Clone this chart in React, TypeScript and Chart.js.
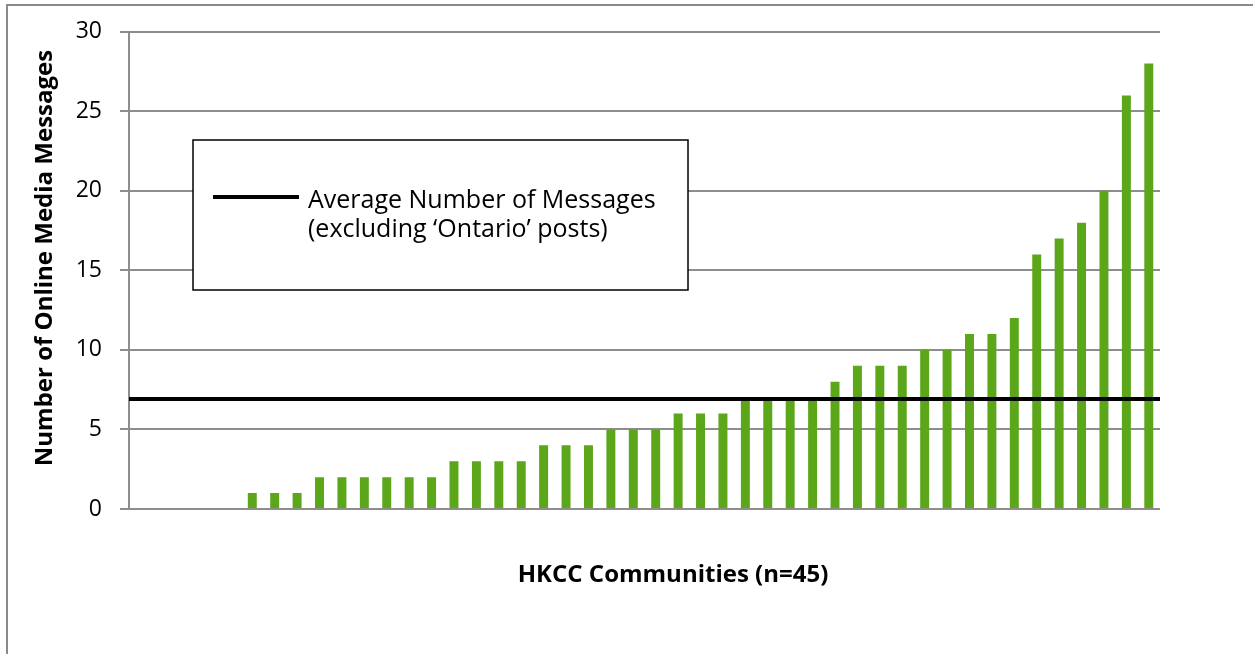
import { useEffect, useRef } from "react";
import { Chart, registerables } from "chart.js";

Chart.register(...registerables);

// ---- data ----
const communities: string[] = Array.from({ length: 46 }, (_, i) => `Community ${i + 1}`);
const messageCounts: number[] = [
  0, 0, 0, 0, 0, 1, 1, 1, 2, 2, 2, 2, 2, 2, 3, 3, 3, 3, 4, 4, 4, 5, 5, 5, 6, 6, 6,
  7, 7, 7, 7, 8, 9, 9, 9, 10, 10, 11, 11, 12, 16, 17, 18, 20, 26, 28,
];
const averageMessages = 6.92;
const yTickValues: number[] = [0, 5, 10, 15, 20, 25, 30];
const legendLines: string[] = ["Average Number of Messages", "(excluding \u2018Ontario\u2019 posts)"];
const xTitle = "HKCC Communities (n=45)";
const yTitle = "Number of Online Media Messages";

const FONT = "'Open Sans', Lato, sans-serif";
const GRID = "#8d8d8d";

const decorPlugin = {
  id: "decor",
  beforeDraw(chart: any) {
    const ctx = chart.ctx;
    ctx.save();
    ctx.fillStyle = "#ffffff";
    ctx.fillRect(0, 0, chart.width, chart.height);
    ctx.strokeStyle = "#8a8a8a";
    ctx.lineWidth = 2;
    ctx.beginPath();
    ctx.moveTo(6, 5);
    ctx.lineTo(chart.width, 5);
    ctx.moveTo(7, 4);
    ctx.lineTo(7, chart.height);
    ctx.stroke();
    ctx.restore();
  },
  afterDraw(chart: any) {
    const ctx = chart.ctx;
    ctx.save();
    // axis titles
    ctx.fillStyle = "#000";
    ctx.font = `bold 24px ${FONT}`;
    ctx.textAlign = "center";
    ctx.textBaseline = "middle";
    ctx.fillText(xTitle, 673, 575);
    ctx.translate(45, 258);
    ctx.rotate(-Math.PI / 2);
    ctx.fillText(yTitle, 0, 0);
    ctx.restore();

    // legend box
    ctx.save();
    const bx = 193, by = 140, bw = 495, bh = 150;
    ctx.fillStyle = "#fff";
    ctx.fillRect(bx, by, bw, bh);
    ctx.strokeStyle = "#000";
    ctx.lineWidth = 1.5;
    ctx.strokeRect(bx, by, bw, bh);
    ctx.lineWidth = 4;
    ctx.beginPath();
    ctx.moveTo(213, 197);
    ctx.lineTo(299, 197);
    ctx.stroke();
    ctx.fillStyle = "#000";
    ctx.font = `25px ${FONT}`;
    ctx.textAlign = "left";
    ctx.textBaseline = "alphabetic";
    ctx.fillText(legendLines[0], 308, 208);
    ctx.fillText(legendLines[1], 308, 237);
    ctx.restore();
  },
};

export default function App() {
  const ref = useRef<HTMLCanvasElement | null>(null);

  useEffect(() => {
    if (!ref.current) return;
    const chart = new Chart(ref.current, {
      type: "bar",
      data: {
        labels: communities,
        datasets: [
          {
            type: "line",
            label: legendLines.join(" "),
            data: [
              { x: 0, y: averageMessages },
              { x: communities.length, y: averageMessages },
            ],
            xAxisID: "xAvg",
            borderColor: "#000000",
            borderWidth: 4,
            pointRadius: 0,
            order: 0,
          } as any,
          {
            type: "bar",
            label: "Messages",
            data: messageCounts,
            xAxisID: "x",
            backgroundColor: "#5ba619",
            borderWidth: 0,
            barPercentage: 0.4,
            categoryPercentage: 1,
            grouped: false,
            order: 1,
          },
        ],
      },
      options: {
        responsive: false,
        animation: false,
        events: [],
        layout: { padding: { left: 0, top: 29, right: 93, bottom: 145 } },
        plugins: { legend: { display: false }, tooltip: { enabled: false } },
        scales: {
          x: { type: "category", display: false, offset: true },
          xAvg: { type: "linear", display: false, offset: false, min: 0, max: communities.length },
          y: {
            min: 0,
            max: 30,
            afterFit: (s: any) => {
              s.width = 129;
            },
            afterBuildTicks: (s: any) => {
              s.ticks = yTickValues.map((v) => ({ value: v }));
            },
            ticks: {
              color: "#000",
              font: { family: FONT, size: 23 },
              padding: 18,
            },
            grid: { color: GRID, lineWidth: 2, tickLength: 9, drawTicks: true },
            border: { display: true, color: GRID, width: 2 },
          },
        },
      } as any,
      plugins: [decorPlugin],
    });
    return () => chart.destroy();
  }, []);

  return (
    <div style={{ position: "absolute", left: 0, top: 0, width: 1253, height: 654, background: "#fff" }}>
      <canvas ref={ref} width={1253} height={654} style={{ display: "block", width: 1253, height: 654 }} />
    </div>
  );
}
